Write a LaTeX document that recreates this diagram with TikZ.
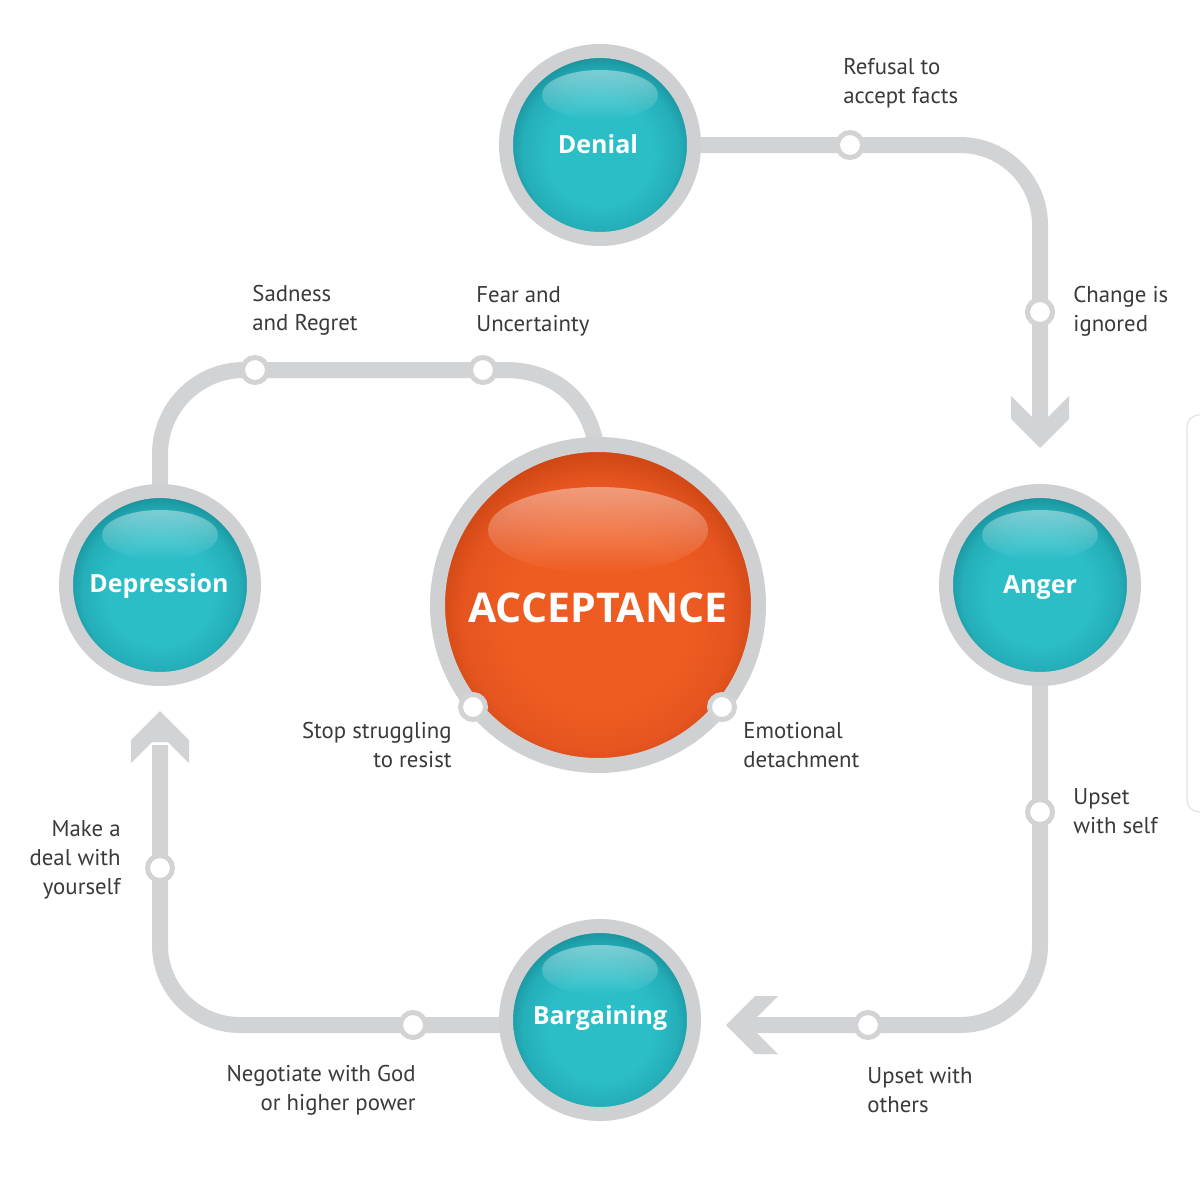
\documentclass[tikz,border=0pt]{standalone}
\usepackage{fontspec}
\setmainfont{PT Sans}
\newfontfamily\titlefont{Open Sans}
\usetikzlibrary{fadings}
\definecolor{trackgrey}{HTML}{D2D3D5}
\definecolor{ringgrey}{HTML}{CFD0D2}
\definecolor{tealC}{HTML}{2BBEC7}
\definecolor{tealM}{HTML}{24AEB8}
\definecolor{tealE}{HTML}{168C97}
\definecolor{orangeC}{HTML}{EF5C22}
\definecolor{orangeM}{HTML}{E65520}
\definecolor{orangeE}{HTML}{CB4512}
\definecolor{labelgrey}{HTML}{3A3A3A}
\definecolor{edgegrey}{HTML}{E2E2E2}
\pgfdeclareradialshading{tealball}{\pgfpoint{0bp}{-3bp}}{color(0bp)=(tealC); color(14bp)=(tealC); color(21bp)=(tealM); color(26bp)=(tealE); color(50bp)=(tealE)}
\pgfdeclareradialshading{orangeball}{\pgfpoint{0bp}{-3bp}}{color(0bp)=(orangeC); color(14bp)=(orangeC); color(21bp)=(orangeM); color(26bp)=(orangeE); color(50bp)=(orangeE)}
\tikzfading[name=hlfade, top color=transparent!25, bottom color=transparent!100]
\begin{document}
\begin{tikzpicture}[x=0.5pt,y=-0.5pt,
  track/.style={draw=trackgrey, line width=8pt},
  chevron/.style={fill=trackgrey},
  ball/.style={circle, inner sep=0pt, minimum size=94pt, draw=ringgrey, line width=7pt,
    shade, shading=tealball},
  bigball/.style={circle, inner sep=0pt, minimum size=160.5pt, draw=ringgrey, line width=7.5pt,
    shade, shading=orangeball},
  glint/.style={fill=white, path fading=hlfade, fill opacity=0.55},
  title/.style={text=white, inner sep=0pt, font=\titlefont\bfseries\fontsize{12.5}{15}\selectfont},
  bigtitle/.style={text=white, inner sep=0pt, font=\titlefont\bfseries\fontsize{20.5}{24}\selectfont},
  station/.style={circle, inner sep=0pt, minimum size=12.5pt, draw=trackgrey, line width=2.5pt, fill=white},
  lab/.style={inner sep=0pt, text=labelgrey, font=\fontsize{11.4}{14.5}\selectfont}
]
\useasboundingbox (0,0) rectangle (1200,1183);
\fill[white] (0,0) rectangle (1200,1183);
\begin{scope}
\clip (0,0) rectangle (1200,1183);
\draw[edgegrey, line width=0.6pt, rounded corners=6pt] (1215,415) -- (1187,415) -- (1187,812) -- (1215,812);
\end{scope}

% coordinates
\coordinate (c1) at (1040,145);
\coordinate (a1) at (1040,420);
\coordinate (c2) at (1040,1025);
\coordinate (a2) at (754,1025);
\coordinate (c3) at (160,1025);
\coordinate (a3) at (160,745);
\coordinate (c4) at (160,370);
\coordinate (t4) at (505,370);
\coordinate (e4) at (596,445);

\path (600,145) coordinate (pDen) (1040,585) coordinate (pAng)
      (600,1020) coordinate (pBar) (160,585) coordinate (pDep) (598,605) coordinate (pAcc);

% tracks
\draw[track, rounded corners=40pt] (pDen) -- (c1) -- (a1);
\draw[track, rounded corners=40pt] (pAng) -- (c2) -- (a2);
\draw[track, rounded corners=40pt] (600,1025) -- (c3) -- (a3);
\draw[track, rounded corners=42pt] (pDep) -- (c4) -- (t4);
\draw[track] (t4) .. controls (555,370) and (588,400) .. (e4);

% arrowheads
\fill[chevron] (1040,448) -- (1011,419) -- (1011,396) -- (1032,417) -- (1048,417) -- (1069,396) -- (1069,419) -- cycle;
\fill[chevron] (726,1025) -- (755,996) -- (778,996) -- (757,1017) -- (757,1033) -- (778,1054) -- (755,1054) -- cycle;
\fill[chevron] (160,711) -- (131,740) -- (131,763) -- (152,742) -- (168,742) -- (189,763) -- (189,740) -- cycle;

% stations on tracks
\node[station] (s1) at (850,145) {};
\node[station] (s2) at (1040,312) {};
\node[station] (s3) at (1040,812) {};
\node[station] (s4) at (868,1025) {};
\node[station] (s5) at (413,1025) {};
\node[station] (s6) at (160,868) {};
\node[station] (s7) at (255,370) {};
\node[station] (s8) at (483,370) {};

% main balls
\node[ball] (den) at (pDen) {};
\node[ball] (ang) at (pAng) {};
\node[ball] (bar) at (pBar) {};
\node[ball] (dep) at (pDep) {};
\node[bigball] (acc) at (pAcc) {};

% glints
\foreach \n in {den,ang,bar,dep}
  \fill[glint] ([yshift=25pt]\n.center) ellipse [x radius=58, y radius=25];
\fill[glint] ([yshift=37.5pt]acc.center) ellipse [x radius=110, y radius=43];

% titles
\node[title] (tden) at (598,144) {Denial};
\node[title] (tang) at (1040,588) {Anger};
\node[title] (tbar) at (600,1018) {Bargaining};
\node[title] (tdep) at (159,586) {Depression};
\node[bigtitle] (tacc) at (598,608) {ACCEPTANCE};

\node[station] (s9) at (473,707) {};
\node[station] (s10) at (722,707) {};

% labels
\node[lab, anchor=west, align=left] (l1) at (843,83) {Refusal to\\accept facts};
\node[lab, anchor=west, align=left] (l2) at (1073,311) {Change is\\ignored};
\node[lab, anchor=west, align=left] (l3) at (1073,811) {Upset\\with self};
\node[lab, anchor=west, align=left] (l4) at (867,1090) {Upset with\\others};
\node[lab, anchor=east, align=right] (l5) at (416,1090) {Negotiate with God\\or higher power};
\node[lab, anchor=east, align=right] (l6) at (121,860) {Make a\\deal with\\yourself};
\node[lab, anchor=west, align=left] (l7) at (252,310) {Sadness\\and Regret};
\node[lab, anchor=west, align=left] (l8) at (476,311) {Fear and\\Uncertainty};
\node[lab, anchor=east, align=right] (l9) at (452,745) {Stop struggling\\to resist};
\node[lab, anchor=west, align=left] (l10) at (743,745) {Emotional\\detachment};
\end{tikzpicture}
\end{document}
